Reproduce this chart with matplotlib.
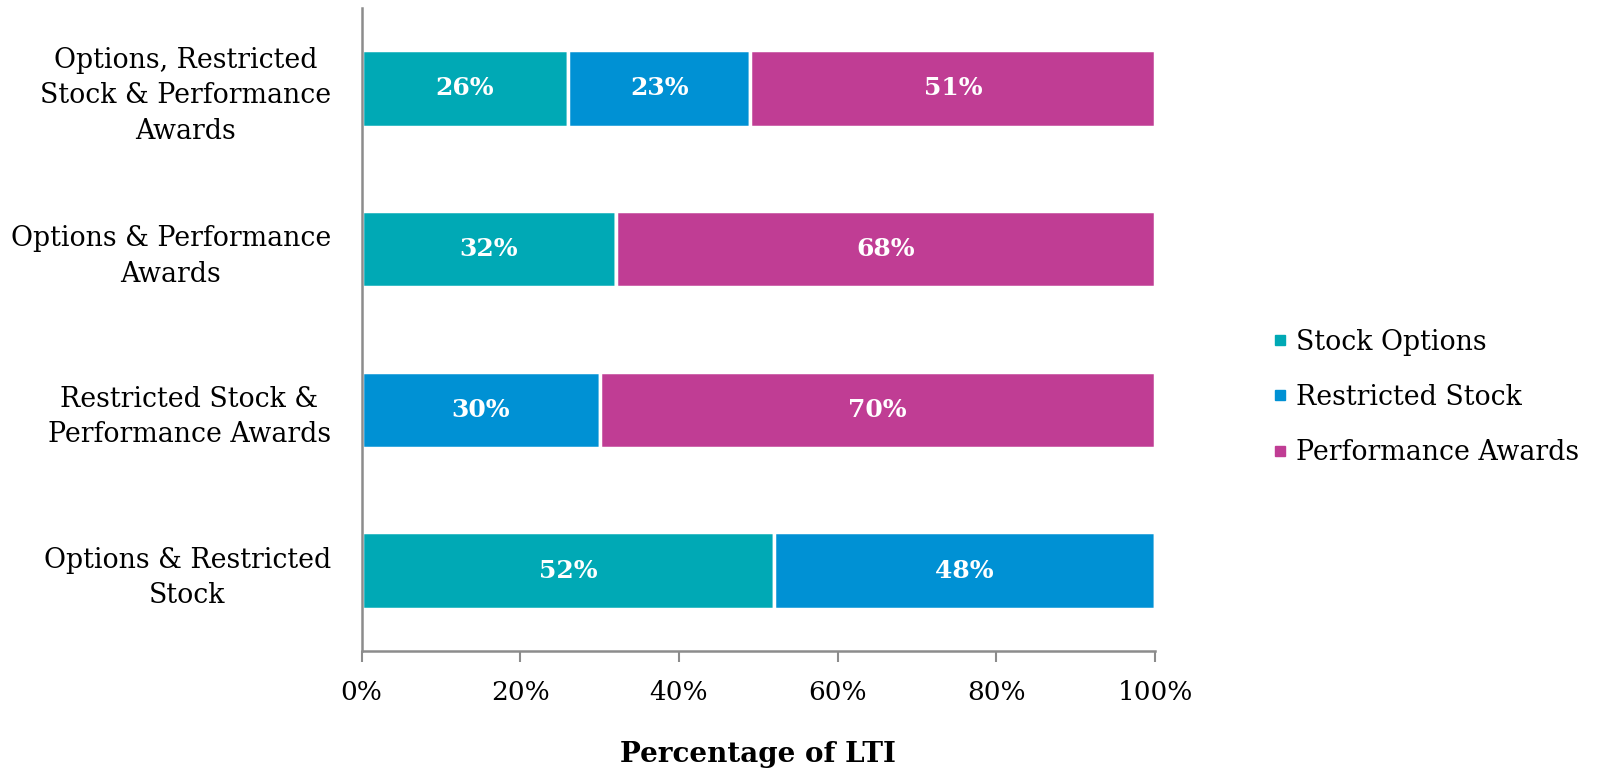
import matplotlib
matplotlib.use("Agg")
import matplotlib.pyplot as plt
from matplotlib.lines import Line2D
import numpy as np

plt.rcParams['font.family'] = ['DejaVu Serif']

categories = [
    "Options, Restricted\nStock & Performance\nAwards",
    "Options & Performance\nAwards",
    "Restricted Stock &\nPerformance Awards",
    "Options & Restricted\nStock",
]
series_names = ["Stock Options", "Restricted Stock", "Performance Awards"]
stock_options = [26, 32, 0, 52]
restricted_stock = [23, 0, 30, 48]
performance_awards = [51, 68, 70, 0]
colors = ["#00A9B5", "#0091D4", "#C03D94"]
x_ticks = [0, 20, 40, 60, 80, 100]

fig = plt.figure(figsize=(16, 7.7), dpi=100)
ax = fig.add_axes([0.226, 0.1545, 0.496, 0.835])

y = np.arange(len(categories))
left = np.zeros(len(categories))
for vals, color in zip([stock_options, restricted_stock, performance_awards], colors):
    vals = np.array(vals, dtype=float)
    ax.barh(y, vals, left=left, height=0.475, color=color,
            edgecolor="white", linewidth=2.5)
    for yi, (l, v) in enumerate(zip(left, vals)):
        if v > 0:
            ax.text(l + v / 2, yi, f"{int(v)}%", ha="center", va="center",
                    color="white", fontsize=18, fontweight="bold")
    left += vals

ax.set_xlim(0, 100)
ax.set_ylim(3.5, -0.5)
ax.set_yticks(y)
ax.set_yticklabels(categories, fontsize=19.3, linespacing=1.4,
                   multialignment="center")
ax.set_xticks(x_ticks)
ax.set_xticklabels([f"{t}%" for t in x_ticks], fontsize=19)
ax.tick_params(axis="y", length=0, pad=22)
ax.tick_params(axis="x", length=8, width=1.5, color="#8c8c8c", pad=13)
for s in ["top", "right"]:
    ax.spines[s].set_visible(False)
for s in ["left", "bottom"]:
    ax.spines[s].set_color("#8c8c8c")
    ax.spines[s].set_linewidth(1.8)
ax.set_xlabel("Percentage of LTI", fontsize=20, fontweight="bold", labelpad=26)

handles = [Line2D([0], [0], marker="s", linestyle="none", markersize=7,
                  markerfacecolor=c, markeredgecolor=c) for c in colors]
fig.legend(handles, series_names, loc="center left",
           bbox_to_anchor=(0.779, 0.484), frameon=False, fontsize=19.3,
           handletextpad=0.25, labelspacing=1.05, handlelength=0.7)

fig.savefig("out.png", dpi=100)
